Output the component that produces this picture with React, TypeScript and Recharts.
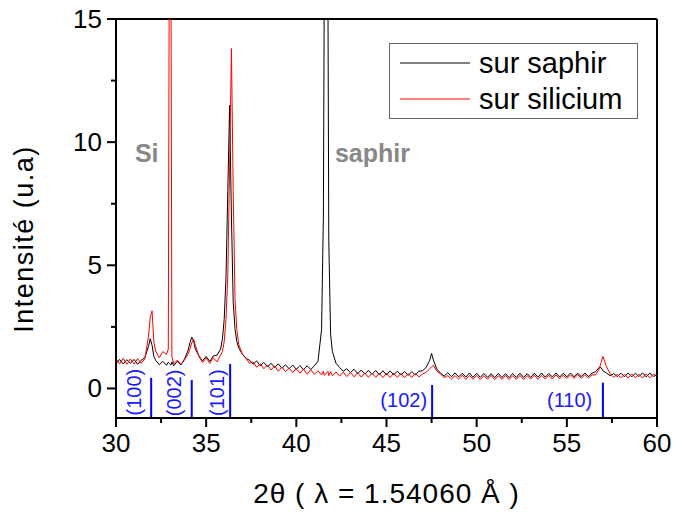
import React from 'react';
import {
  LineChart,
  Line,
  XAxis,
  YAxis,
  Legend,
  ReferenceLine,
  ReferenceDot,
} from 'recharts';

// 2θ grid (degrees), denser around the peaks
const twoTheta = [
  30.0, 30.2, 30.4, 30.6, 30.8,
  31.0, 31.2, 31.4, 31.6, 31.8, 31.9,
  32.0, 32.1, 32.2, 32.4, 32.6, 32.8, 32.9, 32.95,
  33.05, 33.1, 33.2, 33.4, 33.6, 33.8,
  34.0, 34.1, 34.2, 34.3, 34.4, 34.6, 34.8,
  35.0, 35.2, 35.4, 35.6, 35.8, 35.9,
  36.0, 36.1, 36.2, 36.3, 36.4, 36.5, 36.6, 36.7, 36.8,
  37.0, 37.2, 37.4, 37.6, 37.8,
  38.0, 38.2, 38.4, 38.6, 38.8,
  39.0, 39.2, 39.4, 39.6, 39.8,
  40.0, 40.2, 40.4, 40.6, 40.8,
  41.0, 41.2, 41.4, 41.5, 41.55, 41.75, 41.8, 41.9,
  42.0, 42.2, 42.4, 42.6, 42.8,
  43.0, 43.2, 43.4, 43.6, 43.8,
  44.0, 44.2, 44.4, 44.6, 44.8,
  45.0, 45.2, 45.4, 45.6, 45.8,
  46.0, 46.2, 46.4, 46.6, 46.8,
  47.0, 47.2, 47.4, 47.5, 47.6, 47.8,
  48.0, 48.2, 48.4, 48.6, 48.8,
  49.0, 49.2, 49.4, 49.6, 49.8,
  50.0, 50.2, 50.4, 50.6, 50.8,
  51.0, 51.2, 51.4, 51.6, 51.8,
  52.0, 52.2, 52.4, 52.6, 52.8,
  53.0, 53.2, 53.4, 53.6, 53.8,
  54.0, 54.2, 54.4, 54.6, 54.8,
  55.0, 55.2, 55.4, 55.6, 55.8,
  56.0, 56.2, 56.4, 56.6, 56.8, 56.9,
  57.0, 57.2, 57.4, 57.6, 57.8,
  58.0, 58.2, 58.4, 58.6, 58.8,
  59.0, 59.2, 59.4, 59.6, 59.8,
  60.0,
];

const surSaphir = [
  1.00, 1.18, 0.99, 1.17, 1.02,
  1.18, 0.98, 1.14, 1.25, 1.70, 2.02,
  1.75, 1.30, 1.14, 0.96, 1.10, 0.94, 1.06, 1.02,
  0.95, 1.08, 0.92, 1.10, 0.95, 1.20,
  1.55, 1.85, 2.08, 1.95, 1.60, 1.32, 1.12,
  1.30, 1.10, 1.32, 1.35, 1.60, 2.00,
  2.80, 4.50, 8.00, 11.5, 7.00, 3.50, 2.40, 1.90, 1.65,
  1.40, 1.22, 1.15, 0.98, 1.12,
  0.92, 1.06, 0.88, 1.02, 0.85,
  1.00, 0.82, 0.96, 0.80, 0.95,
  0.78, 0.93, 0.76, 0.92, 0.77,
  0.92, 1.10, 2.40, 7.00, 16.5, 16.5, 6.00, 2.20,
  1.50, 1.02, 0.85, 0.70, 0.80,
  0.64, 0.78, 0.60, 0.75, 0.58,
  0.74, 0.57, 0.73, 0.56, 0.72,
  0.55, 0.71, 0.55, 0.70, 0.54,
  0.69, 0.53, 0.68, 0.55, 0.70,
  0.72, 0.85, 1.15, 1.42, 1.15, 0.78,
  0.62, 0.50, 0.64, 0.48, 0.63,
  0.47, 0.62, 0.46, 0.63, 0.45,
  0.62, 0.45, 0.61, 0.45, 0.60,
  0.44, 0.61, 0.45, 0.60, 0.44,
  0.61, 0.45, 0.62, 0.45, 0.60,
  0.45, 0.62, 0.46, 0.63, 0.46,
  0.61, 0.47, 0.63, 0.46, 0.62,
  0.47, 0.63, 0.47, 0.62, 0.48,
  0.63, 0.48, 0.62, 0.68, 0.86, 0.84,
  0.72, 0.62, 0.52, 0.60, 0.48,
  0.62, 0.47, 0.63, 0.47, 0.62,
  0.48, 0.63, 0.47, 0.62, 0.48,
  0.58,
];

const surSilicium = [
  1.20, 1.00, 1.22, 0.98, 1.20,
  0.99, 1.21, 1.02, 1.20, 2.10, 2.90,
  3.15, 1.90, 1.52, 1.25, 1.50, 1.38, 1.60, 16.5,
  16.5, 1.30, 1.00, 1.15, 0.98, 1.16,
  1.40, 1.60, 1.85, 2.00, 1.75, 1.30, 1.05,
  1.24, 1.02, 1.25, 1.08, 1.35, 1.50,
  1.90, 2.80, 4.60, 9.00, 13.8, 8.00, 3.60, 2.40, 1.80,
  1.40, 1.25, 1.02, 1.08, 0.86,
  1.00, 0.80, 0.95, 0.75, 0.91,
  0.70, 0.87, 0.68, 0.83, 0.64,
  0.81, 0.62, 0.79, 0.58, 0.76,
  0.57, 0.72, 0.55, 0.70, 0.53, 0.69, 0.52, 0.68,
  0.51, 0.67, 0.50, 0.66, 0.48,
  0.65, 0.47, 0.64, 0.46, 0.63,
  0.45, 0.62, 0.45, 0.62, 0.44,
  0.61, 0.44, 0.62, 0.45, 0.61,
  0.44, 0.60, 0.45, 0.61, 0.47,
  0.58, 0.66, 0.80, 0.88, 0.94, 0.70,
  0.58, 0.44, 0.52, 0.38, 0.52,
  0.38, 0.54, 0.37, 0.53, 0.37,
  0.53, 0.36, 0.52, 0.37, 0.53,
  0.36, 0.52, 0.37, 0.53, 0.36,
  0.52, 0.37, 0.53, 0.36, 0.52,
  0.38, 0.54, 0.37, 0.53, 0.38,
  0.54, 0.38, 0.55, 0.39, 0.54,
  0.40, 0.55, 0.40, 0.56, 0.41,
  0.56, 0.42, 0.55, 0.55, 0.80, 1.05,
  1.30, 0.88, 0.60, 0.45, 0.58,
  0.43, 0.58, 0.42, 0.59, 0.43,
  0.58, 0.42, 0.59, 0.43, 0.58,
  0.50,
];

const xTicks = [30, 32.5, 35, 37.5, 40, 42.5, 45, 47.5, 50, 52.5, 55, 57.5, 60];
const yTicks = [0, 2.5, 5, 7.5, 10, 12.5, 15];

// ZnO reflections: hkl, 2θ position, bar height
const hklNames = ['(100)', '(002)', '(101)', '(102)', '(110)'];
const hklPos = [31.95, 34.2, 36.33, 47.53, 57.0];
const hklHeight = [0.43, 0.34, 0.99, 0.14, 0.23];

// label anchor positions (data coords)
const hklLabelX = [31.36, 33.62, 35.97, 47.25, 56.41];
const hklLabelY = [-0.15, -0.18, -0.17, -0.77, -0.77];

const Y_MIN = -1.2;
const FONT = 'Arial, "Liberation Sans", sans-serif';

const data = twoTheta.map((t, i) => ({
  t,
  saphir: surSaphir[i],
  silicium: surSilicium[i],
}));

const XTick = ({ x, y, payload }: any) => {
  const major = payload.value % 5 === 0;
  return (
    <g>
      <line x1={x} y1={y} x2={x} y2={y + (major ? 9 : 5)} stroke="#000" strokeWidth={2} />
      {major && (
        <text x={x} y={y + 34} textAnchor="middle" fontSize={26} fontFamily={FONT} fill="#000">
          {payload.value}
        </text>
      )}
    </g>
  );
};

const YTick = ({ x, y, payload }: any) => {
  const major = payload.value % 5 === 0;
  return (
    <g>
      <line x1={x - (major ? 9 : 5)} y1={y} x2={x} y2={y} stroke="#000" strokeWidth={2} />
      {major && (
        <text x={x - 14} y={y + 9} textAnchor="end" fontSize={26} fontFamily={FONT} fill="#000">
          {payload.value}
        </text>
      )}
    </g>
  );
};

const LegendBox = ({ payload }: any) => (
  <svg width={249} height={76}>
    <rect x={0.5} y={0.5} width={248} height={75} fill="#fff" stroke="#666" strokeWidth={1} />
    {(payload || []).map((p: any, i: number) => (
      <g key={p.value}>
        <line x1={11} x2={81} y1={20 + i * 36} y2={20 + i * 36} stroke={p.color} strokeWidth={1} />
        <text x={90} y={30 + i * 36} fontSize={29} fontFamily={FONT} fill="#000">
          {p.value}
        </text>
      </g>
    ))}
  </svg>
);

const grayLabel = (text: string) => ({ viewBox }: any) => (
  <text x={viewBox.x} y={viewBox.y} fontSize={25} fontWeight="bold" fontFamily={FONT} fill="#888">
    {text}
  </text>
);

const hklLabel = (text: string, rotated: boolean) => ({ viewBox }: any) => (
  <text
    x={viewBox.x}
    y={viewBox.y}
    fontSize={20}
    fontFamily={FONT}
    fill="#1a1aff"
    textAnchor={rotated ? 'middle' : 'end'}
    transform={rotated ? `rotate(-90, ${viewBox.x}, ${viewBox.y})` : undefined}
  >
    {text}
  </text>
);

export default function App() {
  return (
    <div style={{ position: 'absolute', left: 0, top: 0, background: '#fff' }}>
      <LineChart width={674} height={515} data={data} margin={{ top: 19, right: 17, bottom: 0, left: 0 }}>
        <XAxis
          dataKey="t"
          type="number"
          domain={[30, 60]}
          ticks={xTicks}
          interval={0}
          tickSize={0}
          tickMargin={0}
          tickLine={false}
          tick={<XTick />}
          height={97}
          axisLine={{ stroke: '#000', strokeWidth: 2 }}
          label={({ viewBox }: any) => (
            <text
              x={viewBox.x + viewBox.width / 2}
              y={viewBox.y + 85}
              textAnchor="middle"
              fontSize={28}
              letterSpacing={1}
              fontFamily={FONT}
              fill="#000"
            >
              2θ ( λ = 1.54060 Å )
            </text>
          )}
        />
        <YAxis
          type="number"
          domain={[Y_MIN, 15]}
          allowDataOverflow
          ticks={yTicks}
          interval={0}
          tickSize={0}
          tickMargin={0}
          tickLine={false}
          tick={<YTick />}
          width={116}
          axisLine={{ stroke: '#000', strokeWidth: 2 }}
          label={() => (
            <text
              x={33}
              y={239}
              textAnchor="middle"
              fontSize={27}
              letterSpacing={1.5}
              fontFamily={FONT}
              fill="#000"
              transform="rotate(-90, 33, 239)"
            >
              Intensité (u.a)
            </text>
          )}
        />
        <ReferenceLine y={15} stroke="#000" strokeWidth={2} />
        <ReferenceLine x={60} stroke="#000" strokeWidth={2} />

        <Line
          type="linear"
          dataKey="saphir"
          name="sur saphir"
          stroke="#000000"
          strokeWidth={1}
          dot={false}
          isAnimationActive={false}
        />
        <Line
          type="linear"
          dataKey="silicium"
          name="sur silicium"
          stroke="#ff0000"
          strokeWidth={1}
          dot={false}
          isAnimationActive={false}
        />

        {hklPos.map((p, i) => (
          <ReferenceLine
            key={hklNames[i]}
            segment={[{ x: p, y: Y_MIN }, { x: p, y: hklHeight[i] }]}
            stroke="#0000ff"
            strokeWidth={2}
          />
        ))}
        {hklNames.map((n, i) => (
          <ReferenceDot
            key={'l' + n}
            x={hklLabelX[i]}
            y={hklLabelY[i]}
            r={0}
            fill="none"
            stroke="none"
            label={hklLabel(n, i < 3)}
          />
        ))}
        <ReferenceDot x={31.05} y={9.2} r={0} fill="none" stroke="none" label={grayLabel('Si')} />
        <ReferenceDot x={42.14} y={9.2} r={0} fill="none" stroke="none" label={grayLabel('saphir')} />

        <Legend
          layout="vertical"
          align="center"
          verticalAlign="middle"
          wrapperStyle={{ left: 389, top: 43, width: 249, height: 76 }}
          content={<LegendBox />}
        />
      </LineChart>
    </div>
  );
}
